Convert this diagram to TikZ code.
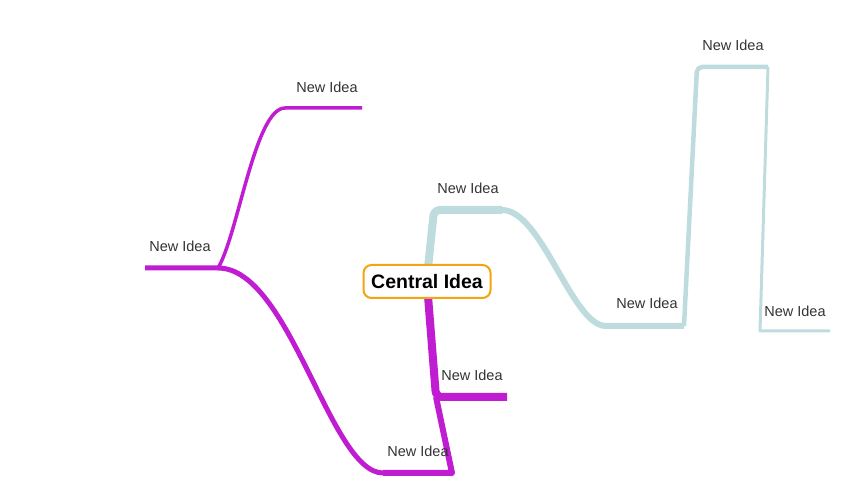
\documentclass[tikz,border=0pt]{standalone}
\usepackage{fontspec}
\setmainfont{Liberation Sans}
\begin{document}
\begin{tikzpicture}[x=1pt,y=-1pt]
\definecolor{teal}{HTML}{BEDCDE}
\definecolor{mag}{HTML}{C01CD2}
\definecolor{orng}{HTML}{F5A410}
\definecolor{txt}{HTML}{333333}
\tikzset{
  lbl/.style={font=\fontsize{14.5}{16}\selectfont, text=txt, inner sep=0pt},
  tbranch/.style={draw=teal, line join=round},
  mbranch/.style={draw=mag, line join=round},
  central/.style={draw=orng, line width=2pt, rounded corners=8pt, fill=white,
    minimum width=127pt, minimum height=33pt, inner sep=0pt,
    font=\bfseries\fontsize{19.5}{22}\selectfont, text=black}
}
\useasboundingbox (0,0) rectangle (855,502);
% coordinates
\coordinate (ctop) at (428,268);
\coordinate (cbot) at (428,296);
\coordinate (t1) at (502,210);
\coordinate (t2) at (684,326);
\coordinate (t3) at (768,67);
\coordinate (t4) at (830,331);
\coordinate (m1) at (436,397);
\coordinate (m1e) at (507,397);
\coordinate (m2) at (383,473);
\coordinate (m3) at (218,268);
\coordinate (m3e) at (145,268);
\coordinate (m4) at (362,108);
% teal branches
\draw[tbranch, line width=8pt, rounded corners=6pt] (ctop) -- (434,210) -- (t1);
\draw[tbranch, line width=6pt, rounded corners=6pt] (t1) .. controls (542,210) and (572,326) .. (612,326) -- (t2);
\draw[tbranch, line width=4.5pt, rounded corners=5pt] (t2) -- (697,67) -- (t3);
\draw[tbranch, line width=3pt] (t3) -- (760,331) -- (t4);
% magenta branches
\draw[mbranch, line width=8pt, rounded corners=6pt] (cbot) -- (436,397) -- (m1e);
\draw[mbranch, line width=6pt] (m1) -- (452,473) -- (m2);
\draw[mbranch, line width=5pt] (m2) .. controls (330,473) and (290,268) .. (m3) -- (m3e);
\draw[mbranch, line width=3.5pt, rounded corners=5pt] (m3) .. controls (238,235) and (255,108) .. (290,108) -- (m4);
% central
\node[central] (c) at (427,281.5) {Central Idea};
% labels
\node[lbl] (l1) at (468,188) {New Idea};
\node[lbl] (l2) at (647,303) {New Idea};
\node[lbl] (l3) at (733,45) {New Idea};
\node[lbl] (l4) at (795,311) {New Idea};
\node[lbl] (l5) at (472,375) {New Idea};
\node[lbl] (l6) at (418,451) {New Idea};
\node[lbl] (l7) at (180,246) {New Idea};
\node[lbl] (l8) at (327,87) {New Idea};
\end{tikzpicture}
\end{document}
